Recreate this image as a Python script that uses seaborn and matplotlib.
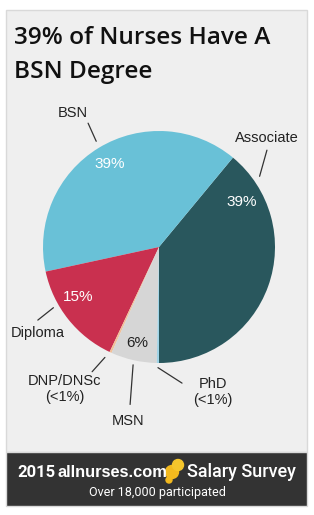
import matplotlib
matplotlib.use("Agg")
import matplotlib.pyplot as plt
from matplotlib.patches import Rectangle, Circle
import numpy as np
import seaborn as sns

# data
degrees = ["Associate", "BSN", "Diploma", "DNP/DNSc", "MSN", "PhD"]
shares = [39.0, 39.4, 14.6, 0.3, 6.4, 0.3]
outer_labels = ["Associate", "BSN", "Diploma", "DNP/DNSc\n(<1%)", "MSN", "PhD\n(<1%)"]
title_lines = ["39% of Nurses Have A", "BSN Degree"]

# layout of labels (polar, in pie radii): text angle/r, leader line start, leader line end
label_pos = {
    "Associate": (45.3, 1.32, (35.1, 1.06), (41.9, 1.25)),
    "BSN": (122.7, 1.37, (120.7, 1.06), (119.8, 1.23)),
    "Diploma": (215.4, 1.28, (209.9, 1.05), (211.1, 1.22)),
    "DNP/DNSc": (236.5, 1.47, (243.9, 1.06), (241.8, 1.22)),
    "MSN": (259.9, 1.52, (257.6, 1.04), (259.6, 1.38)),
    "PhD": (290.4, 1.33, (269.5, 1.04), (279.6, 1.19)),
}
pct_pos = {"Associate": (28.5, 0.81), "BSN": (120.6, 0.83),
            "Diploma": (211.7, 0.82), "MSN": (257.1, 0.85)}
pct_color = {"Associate": "white", "BSN": "white", "Diploma": "white", "MSN": "#222222"}

colors = sns.color_palette(["#29575d", "#69c1d7", "#c9304f", "#f2bf98", "#d6d6d6", "#9fd3e6"])

sns.set_theme(style="white")
plt.rcParams["font.family"] = ["Liberation Sans", "DejaVu Sans"]

W, H = 314, 515
fig = plt.figure(figsize=(W / 100, H / 100), dpi=100)
fig.patch.set_facecolor("white")

# background panel in pixel coordinates
bg = fig.add_axes([0, 0, 1, 1])
bg.set_xlim(0, W)
bg.set_ylim(H, 0)
bg.axis("off")
bg.add_patch(Rectangle((6, 10), 301, 442, facecolor="#efefef", edgecolor="#d9d9d9", lw=1))
bg.add_patch(Rectangle((6, 452), 301, 54, facecolor="#333333", edgecolor="#d9d9d9", lw=1))

for line, base in zip(title_lines, [44, 78]):
    bg.text(14, base, line, fontsize=17.6, family=["Open Sans", "DejaVu Sans"], weight="semibold",
            color="#111111", va="baseline")

# footer
bg.text(17, 477, "2015", fontsize=12, weight="bold", color="white", va="baseline",
        family=["Roboto", "Liberation Sans"])
bg.text(57, 477, "allnurses.com", fontsize=11.8, weight="bold", color="white", va="baseline",
        family=["Liberation Sans Narrow", "Liberation Sans"])
bg.add_patch(Circle((172, 472), 6.5, color="#f3b91e"))
bg.add_patch(Circle((178, 465), 5.5, color="#f6c62c"))
bg.add_patch(Circle((169, 480), 3, color="#f3b91e"))
bg.text(187, 477, "Salary Survey", fontsize=13, color="white", va="baseline",
        family=["Roboto", "DejaVu Sans"], weight="medium")
bg.text(157, 496, "Over 18,000 participated", fontsize=9, color="white", va="baseline",
        ha="center", family=["Roboto", "DejaVu Sans"])

# pie
cx, cy, r = 159, 247, 116
ax = fig.add_axes([(cx - r) / W, (H - cy - r) / H, 2 * r / W, 2 * r / H])
ax.pie(shares, colors=colors, startangle=-90, counterclock=True, radius=1,
       wedgeprops={"linewidth": 0})
ax.set_xlim(-1, 1)
ax.set_ylim(-1, 1)
ax.axis("off")


def polar(a, rr):
    t = np.deg2rad(a)
    return rr * np.cos(t), rr * np.sin(t)


for name, lab in zip(degrees, outer_labels):
    ta, tr, (a0, r0), (a1, r1) = label_pos[name]
    x0, y0 = polar(a0, r0)
    x1, y1 = polar(a1, r1)
    ax.plot([x0, x1], [y0, y1], color="#333333", lw=0.9, clip_on=False)
    tx, ty = polar(ta, tr)
    ax.text(tx, ty, lab, ha="center", va="center", fontsize=10.5, color="#222222",
            linespacing=1.2, clip_on=False)

for name, v in zip(degrees, shares):
    if name in pct_pos:
        px, py = polar(*pct_pos[name])
        ax.text(px, py, f"{v:.0f}%", ha="center", va="center", fontsize=11,
                color=pct_color[name])

fig.savefig("out.png", dpi=100, facecolor="white")
